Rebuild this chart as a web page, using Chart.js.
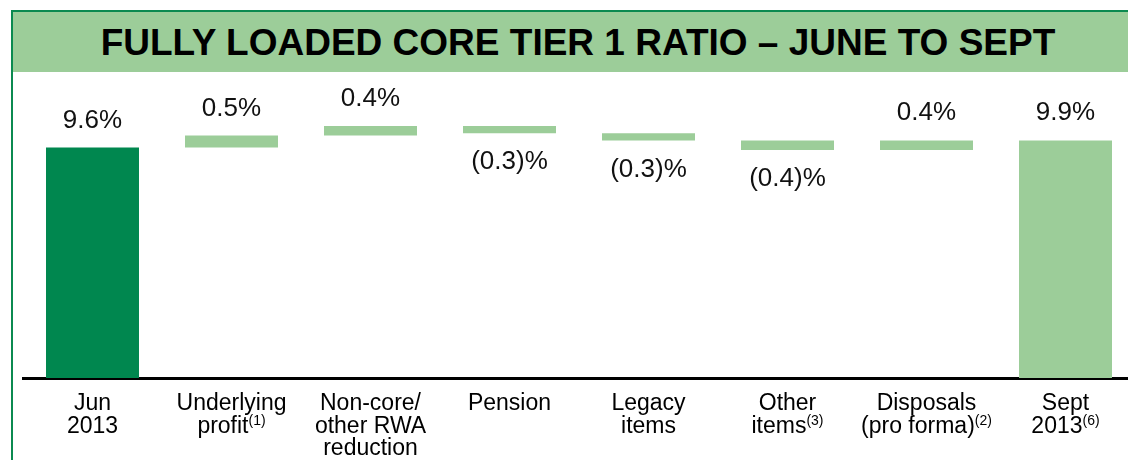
<!DOCTYPE html>
<html>
<head>
<meta charset="utf-8">
<script src="https://cdn.jsdelivr.net/npm/chart.js@4/dist/chart.umd.min.js"></script>
<style>
  html, body { margin: 0; padding: 0; width: 1128px; height: 460px; overflow: hidden; background: #fff; }
  #frame { position: absolute; left: 11px; top: 10px; width: 1200px; height: 500px;
           border-left: 2px solid #0b8a50; border-top: 2px solid #0b8a50; }
  #title { position: absolute; left: 13px; top: 12px; width: 1130px; height: 60px;
           background: #9ccd99; color: #000; text-align: center;
           font: bold 37px "Liberation Sans", Arial, sans-serif; line-height: 62px; white-space: nowrap; }
  #chart { position: absolute; left: 0; top: 72px; }
</style>
</head>
<body>
<div id="frame"></div>
<div id="title">FULLY LOADED CORE TIER 1 RATIO – JUNE TO SEPT</div>
<canvas id="chart" width="1150" height="388"></canvas>
<script>
// ---- data ----
// each line: [main text, superscript]
const categories = [
  [["Jun", ""], ["2013", ""]],
  [["Underlying", ""], ["profit", "(1)"]],
  [["Non-core/", ""], ["other RWA", ""], ["reduction", ""]],
  [["Pension", ""]],
  [["Legacy", ""], ["items", ""]],
  [["Other", ""], ["items", "(3)"]],
  [["Disposals", ""], ["(pro forma)", "(2)"]],
  [["Sept", ""], ["2013", "(6)"]]
];
const categoryNames = ["Jun 2013", "Underlying profit", "Non-core/other RWA reduction", "Pension",
                       "Legacy items", "Other items", "Disposals (pro forma)", "Sept 2013"];
const isTotal = [true, false, false, false, false, false, false, true];
const values = [9.6, 0.5, 0.4, -0.3, -0.3, -0.4, 0.4, 9.9];
const valueLabels = ["9.6%", "0.5%", "0.4%", "(0.3)%", "(0.3)%", "(0.4)%", "0.4%", "9.9%"];

// ---- build floating ranges ----
const ranges = [];
let running = 0;
values.forEach((v, i) => {
  if (isTotal[i]) { ranges.push([0, v]); running = v; }
  else { ranges.push([running, running + v]); running += v; }
});
const DARK = '#00874f', LIGHT = '#9ccd99';
const colors = values.map((v, i) => i === 0 ? DARK : LIGHT);

const FONT = '"Liberation Sans", Arial, sans-serif';

const labelPlugin = {
  id: 'valueLabels',
  afterDatasetsDraw(chart) {
    const ctx = chart.ctx;
    const meta = chart.getDatasetMeta(0);
    ctx.save();
    ctx.font = '26px ' + FONT;
    ctx.fillStyle = '#111';
    ctx.textAlign = 'center';
    meta.data.forEach((bar, i) => {
      const top = Math.min(bar.y, bar.base);
      const bottom = Math.max(bar.y, bar.base);
      if (values[i] >= 0) {
        ctx.textBaseline = 'alphabetic';
        ctx.fillText(valueLabels[i], bar.x, top - 20);
      } else {
        ctx.textBaseline = 'top';
        ctx.fillText(valueLabels[i], bar.x, bottom + 16);
      }
    });
    ctx.restore();
  }
};

const categoryLabelPlugin = {
  id: 'categoryLabels',
  afterDraw(chart) {
    const ctx = chart.ctx;
    const xs = chart.scales.x;
    ctx.save();
    ctx.fillStyle = '#000';
    ctx.textBaseline = 'alphabetic';
    ctx.textAlign = 'left';
    categories.forEach((lines, i) => {
      const cx = xs.getPixelForTick(i);
      lines.forEach((ln, j) => {
        const y = xs.top + 32 + j * 22.5;
        ctx.font = '23px ' + FONT;
        const w1 = ctx.measureText(ln[0]).width;
        ctx.font = '14px ' + FONT;
        const w2 = ln[1] ? ctx.measureText(ln[1]).width : 0;
        const x0 = cx - (w1 + w2) / 2;
        ctx.font = '23px ' + FONT;
        ctx.fillText(ln[0], x0, y);
        if (ln[1]) {
          ctx.font = '14px ' + FONT;
          ctx.fillText(ln[1], x0 + w1, y - 8);
        }
      });
    });
    ctx.restore();
  }
};

new Chart(document.getElementById('chart'), {
  type: 'bar',
  data: {
    labels: categoryNames,
    datasets: [{
      data: ranges,
      backgroundColor: colors,
      borderWidth: 0,
      borderSkipped: false,
      categoryPercentage: 1,
      barPercentage: 0.669
    }]
  },
  options: {
    responsive: false,
    animation: false,
    devicePixelRatio: 1,
    layout: { padding: { left: 23, right: 15, top: 18, bottom: 0 } },
    plugins: { legend: { display: false }, tooltip: { enabled: false }, title: { display: false } },
    scales: {
      y: { display: false, min: 0, max: 12 },
      x: {
        grid: { display: false, drawTicks: false },
        border: { display: true, color: '#000', width: 3 },
        ticks: { display: false },
        afterFit(scale) { scale.height = 82; }
      }
    }
  },
  plugins: [labelPlugin, categoryLabelPlugin]
});
</script>
</body>
</html>
